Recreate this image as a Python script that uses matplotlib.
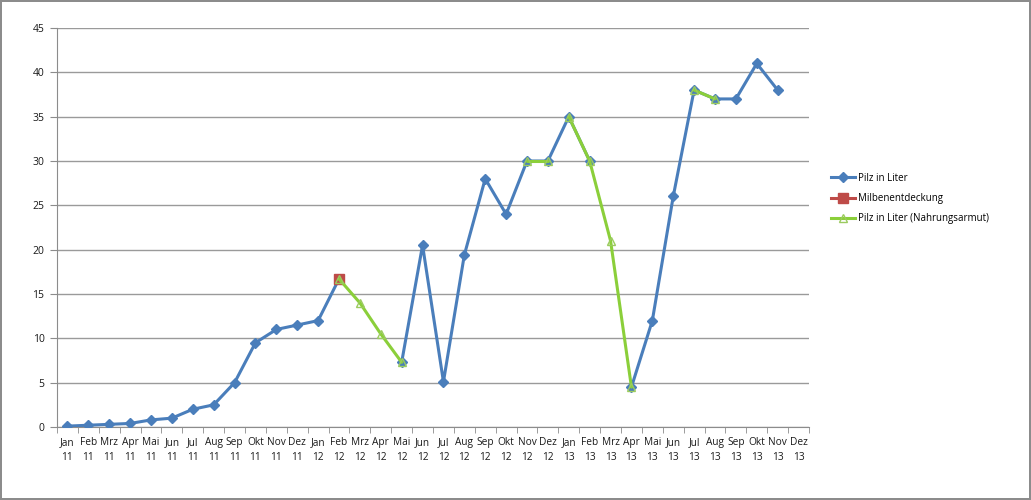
import matplotlib
matplotlib.use("Agg")
import matplotlib.pyplot as plt
import numpy as np
from matplotlib.lines import Line2D

nan = np.nan
months = ["Jan", "Feb", "Mrz", "Apr", "Mai", "Jun", "Jul", "Aug", "Sep", "Okt", "Nov", "Dez"]
years = ["11", "12", "13"]
categories = [f"{m}\n{y}" for y in years for m in months]

pilz = [0.1, 0.2, 0.3, 0.4, 0.8, 1.0, 2.0, 2.5, 5.0, 9.5, 11.0, 11.5,
        12.0, 16.7, nan, nan, 7.3, 20.5, 5.1, 19.4, 28.0, 24.0, 30.0, 30.0,
        35.0, 30.0, nan, 4.5, 12.0, 26.0, 38.0, 37.0, 37.0, 41.0, 38.0, nan]

milben = [nan] * 36
milben[13] = 16.7

nahrung = [nan] * 36
for i, v in {13: 16.7, 14: 14.0, 15: 10.5, 16: 7.3,
             22: 30.0, 23: 30.0,
             24: 35.0, 25: 30.0, 26: 21.0, 27: 4.5,
             30: 38.0, 31: 37.0}.items():
    nahrung[i] = v
# segments of the green series not connected by a line (index of left point)
nahrung_breaks = [23]

yticks = list(range(0, 50, 5))

BLUE = "#4A7EBB"
RED = "#BE4B48"
GREEN = "#8BCF3A"
GREEN_M = "#9BCB5F"

plt.rcParams['font.family'] = ['Open Sans', 'DejaVu Sans']
fig = plt.figure(figsize=(10.31, 5.0), dpi=100)
fig.patch.set_edgecolor("#8c8c8c")
fig.patch.set_linewidth(1.5)
ax = fig.add_axes([57/1031, 73/500, 752/1031, 399/500])

x = np.arange(len(categories))
ax.plot(x, pilz, color=BLUE, lw=2.2, marker="D", ms=5, mfc=BLUE, mec=BLUE, zorder=3)
ax.plot(x, milben, color=RED, lw=2.2, marker="s", ms=6.5, mfc=RED, mec=RED, zorder=4)

nv = np.array(nahrung, dtype=float)
for i in range(len(nv) - 1):
    if not np.isnan(nv[i]) and not np.isnan(nv[i + 1]) and i not in nahrung_breaks:
        ax.plot(x[i:i + 2], nv[i:i + 2], color=GREEN, lw=2.2, zorder=5, solid_capstyle="round")
ax.plot(x, nv, ls="none", marker="^", ms=6, mfc="none", mec=GREEN_M, mew=1.0, zorder=6)

ax.set_xlim(-0.5, len(categories) - 0.5)
ax.set_ylim(0, 45)
ax.set_yticks(yticks)
ax.set_xticks(x)
ax.set_xticklabels(categories, fontsize=7.3, color="#1a1a1a", linespacing=1.55)
ax.set_xticks(np.arange(-0.5, len(categories), 1), minor=True)
ax.tick_params(axis="x", which="major", length=0, pad=7)
ax.tick_params(axis="x", which="minor", length=4, color="#8c8c8c")
ax.tick_params(axis="y", length=5, color="#8c8c8c", labelsize=7.5, labelcolor="#1a1a1a", pad=4)
ax.grid(axis="y", color="#9a9a9a", lw=1.0)
ax.set_axisbelow(True)
for s in ["top", "right"]:
    ax.spines[s].set_visible(False)
for s in ["left", "bottom"]:
    ax.spines[s].set_color("#8c8c8c")

handles = [
    Line2D([], [], color=BLUE, lw=2.2, marker="D", ms=5),
    Line2D([], [], color=RED, lw=2.2, marker="s", ms=6.5),
    Line2D([], [], color=GREEN, lw=2.2, marker="^", ms=6, mfc="none", mec=GREEN_M),
]
fig.legend(handles, ["Pilz in Liter", "Milbenentdeckung", "Pilz in Liter (Nahrungsarmut)"],
           loc="upper left", bbox_to_anchor=(822/1031, 1 - 164/500), frameon=False,
           fontsize=7, handlelength=2.5, labelspacing=0.95, handletextpad=0.3)

fig.savefig("out.png", dpi=100, edgecolor=fig.get_edgecolor())
